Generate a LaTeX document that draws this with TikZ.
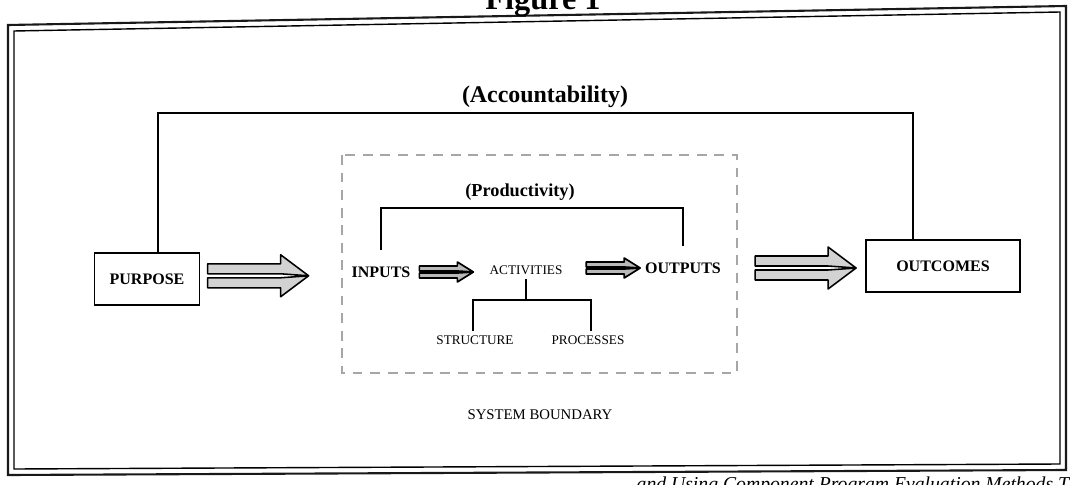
\documentclass[tikz,border=0pt]{standalone}
\usepackage{fontspec}
\setmainfont{Liberation Serif}
\usetikzlibrary{calc}

\begin{document}
\begin{tikzpicture}[x=0.025cm, y=-0.025cm,
  boxed/.style={draw, line width=1.3pt, minimum width=2.625cm, minimum height=1.3cm, font=\fontsize{11.4}{13}\selectfont\bfseries},
  bold label/.style={font=\fontsize{11.4}{13}\selectfont\bfseries},
  small label/.style={font=\fontsize{9.4}{11}\selectfont},
  link/.style={line width=1.2pt},
  fatarrow/.pic={
    \filldraw[fill=gray!35, line width=1.1pt, line join=round]
      (0,-12) -- (73,-12) -- (73,-21) -- (101,0) -- (73,-2) -- (0,-2) -- cycle
      (0,12) -- (73,12) -- (73,21) -- (101,0) -- (73,2) -- (0,2) -- cycle;},
  thinarrow/.pic={
    \filldraw[fill=gray!55, line width=1.2pt, line join=round]
      (0,-6) -- (38,-6) -- (38,-10) -- (54,0) -- (38,-1) -- (0,-1) -- cycle
      (0,6) -- (38,6) -- (38,10) -- (54,0) -- (38,1) -- (0,1) -- cycle;}]
  \useasboundingbox (0,0) rectangle (1070,485);

  % page frame
  \draw[line width=1.5pt, gray!20!black] (8,25) -- (1066,6) -- (1066,470) -- (8,475) -- cycle;
  \draw[line width=1pt] (14,31) -- (1060,12) -- (1060,464) -- (14,469) -- cycle;
  \node[font=\fontsize{23}{26}\selectfont\bfseries, anchor=base] (figtitle) at (543,10) {Figure 1};
  \node[font=\fontsize{14}{16}\selectfont\itshape, anchor=base east] (source) at (1074,490) {and Using Component Program Evaluation Methods T};

  \node[boxed] (purpose) at (147,279) {PURPOSE};
  \node[boxed, minimum width=3.85cm] (outcomes) at (943,266) {OUTCOMES};
  \node[font=\fontsize{17}{20}\selectfont\bfseries] (accountability) at (545,97) {(Accountability)};
  \coordinate (acctop) at (545,113);
  \draw[link] ([xshift=0.27cm]purpose.north) |- (acctop) -| ([xshift=-0.75cm]outcomes.north);

  % system boundary
  \draw[gray!70, line width=0.8pt, dash pattern=on 7pt off 5.5pt] (342,155) rectangle (737,373);
  \node[font=\fontsize{10.5}{12}\selectfont] (boundary) at (540,415) {SYSTEM BOUNDARY};

  \node[bold label] (inputs) at (381,272) {INPUTS};
  \node[small label] (activities) at (526,270) {ACTIVITIES};
  \node[bold label] (outputs) at (683,268) {OUTPUTS};
  \node[font=\fontsize{13}{15}\selectfont\bfseries] (productivity) at (520,192) {(Productivity)};
  \coordinate (prodtop) at (520,208);
  \draw[link] ([yshift=0.28cm]inputs.north) |- (prodtop) -| ([yshift=0.3cm]outputs.north);
  \pic at ([xshift=0.1cm]inputs.east) {thinarrow};
  \pic at ([xshift=-1.35cm]outputs.west) {thinarrow};

  \node[small label] (structure) at (475,340) {STRUCTURE};
  \node[small label] (processes) at (588,340) {PROCESSES};
  \coordinate (actjoin) at (526,300);
  \draw[link] (activities.south) -- (actjoin);
  \draw[link] ([xshift=-0.05cm]structure.north) |- (actjoin) -| ([xshift=0.075cm]processes.north);

  \pic at ([xshift=0.18cm,yshift=0.08cm]purpose.east) {fatarrow};
  \pic at ([xshift=-2.75cm,yshift=-0.05cm]outcomes.west) {fatarrow};
\end{tikzpicture}
\end{document}
